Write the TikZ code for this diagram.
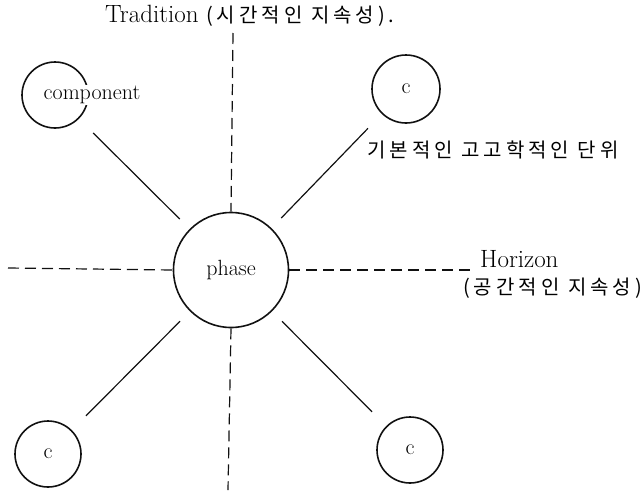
\documentclass[tikz,border=0pt]{standalone}
\usepackage{fontspec}
\newfontfamily\kr{Noto Sans CJK KR}[LetterSpace=20]
\usepackage{tikz}
\usetikzlibrary{positioning, calc}
\definecolor{ink}{HTML}{111111}

\begin{document}
\begin{tikzpicture}[x=1pt, y=-1pt,
    font=\fontsize{22}{26}\selectfont,
    unit/.style={circle, draw=ink, line width=1.6pt, inner sep=0pt},
    spoke/.style={ink, line width=1.2pt, shorten <=20pt, shorten >=14pt},
    axis/.style={ink, line width=1.2pt, dash pattern=on 11pt off 6pt},
    big/.style={inner sep=0pt, font=\fontsize{25}{29}\selectfont},
    note/.style={inner sep=0pt, font=\kr\fontsize{20}{23}\selectfont}]
      \useasboundingbox (0,0) rectangle (644,490);
      % circles
      \node[unit, minimum size=115pt] (phase) at (231,270) {phase};
      \node[unit, minimum size=66pt] (comp) at (55,95) {};
      \node[fill=white, inner sep=1pt] (complabel) at (92,95) {component};
      \node[unit, minimum size=68pt] (ctr) at (406,89) {c};
      \node[unit, minimum size=66pt] (cbl) at (48,454) {c};
      \node[unit, minimum size=66pt] (cbr) at (410,450) {c};
      % texts
      \node[big, anchor=west] (trad) at (105,16) {Tradition {\kr\fontsize{20}{23}\selectfont (시간적인 지속성).}};
      \node[note, anchor=west] (basic) at (367,150) {기본적인 고고학적인 단위};
      \node[big, anchor=west] (horizon) at (480,259) {Horizon};
      \node[note, anchor=west] (horiznote) at (463,288) {(공간적인 지속성)};
      % free ends
      \coordinate (tradtop) at (233,33);
      \coordinate (tradbot) at (228,490);
      \coordinate (leftend) at (8,268);
      % spokes
      \draw[spoke] (comp) -- (phase);
      \draw[spoke] (ctr) -- (phase);
      \draw[spoke] (cbl) -- (phase);
      \draw[spoke] (cbr) -- (phase);
      % dashed axes
      \draw[axis] (tradtop) -- (phase.north);
      \draw[axis] (phase.south) -- (tradbot);
      \draw[axis] (leftend) -- (phase.west);
      \draw[axis] (phase.east) -- ($(phase.east -| horizon.west)+(-6,0)$);
    \end{tikzpicture}
\end{document}
